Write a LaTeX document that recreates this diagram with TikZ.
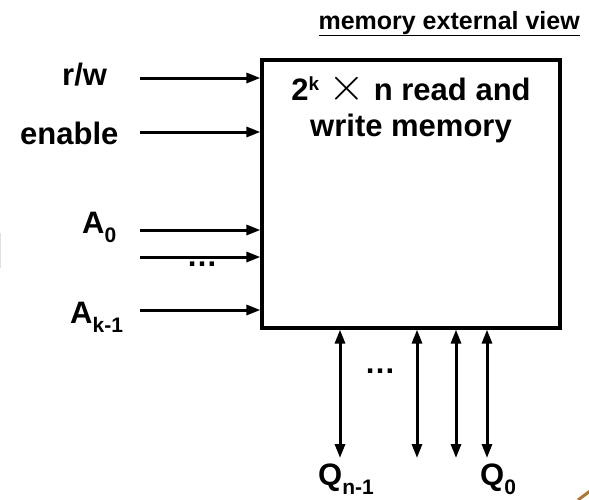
\documentclass[tikz,border=0pt]{standalone}
\usepackage{graphicx}
\usepackage{fontspec}
\setmainfont{Liberation Sans}
\usetikzlibrary{arrows.meta}
\newcommand{\lbl}{\fontsize{31}{36}\selectfont\bfseries}
\newcommand{\subs}[1]{\raisebox{-0.3em}{\fontsize{21}{21}\selectfont #1}}
\newcommand{\sups}[1]{\raisebox{0.3em}{\fontsize{19}{19}\selectfont #1}}
\begin{document}
\begin{tikzpicture}[x=1pt,y=-1pt,
  lab/.style={inner sep=0pt,font=\lbl,anchor=base west},
  wire/.style={line width=3pt,-{Triangle[length=14pt,width=10pt]}},
  bus/.style={line width=3pt,{Triangle[length=14pt,width=10pt]}-{Triangle[length=14pt,width=10pt]}},
  dots/.style={inner sep=0pt,font=\lbl}]
\useasboundingbox (0,0) rectangle (589,499);
% memory box
\node[draw,line width=3.2pt,minimum width=298pt,minimum height=268pt,inner sep=0pt] (mem) at (411,194) {};
\node[inner sep=0pt,font=\fontsize{31}{36}\selectfont\bfseries,anchor=base] (memtxt1) at (411,100)
  {2\sups{k}\hspace{9pt}\scalebox{1.9}{$\times$}\hspace{9pt}n read and};
\node[inner sep=0pt,font=\fontsize{31}{36}\selectfont\bfseries,anchor=base] (memtxt2) at (411,136)
  {write memory};
% title
\node[inner sep=0pt,font=\fontsize{25}{30}\selectfont\bfseries,anchor=base east] (title) at (580,29) {\underline{memory external view}};
% input labels
\node[lab] (rw) at (62,85) {r/w};
\node[lab] (en) at (20,144) {enable};
\node[lab] (a0) at (82,233) {A\subs{0}};
\node[lab] (ak) at (70,323) {A\subs{k-1}};
% input wire starts
\coordinate (s1) at (140,78);
\coordinate (s2) at (140,132);
\coordinate (s3) at (140,230);
\coordinate (s4) at (140,257);
\coordinate (s5) at (140,310);
\foreach \s in {s1,s2,s3,s4,s5}
  \draw[wire] (\s) -- (mem.west |- \s);
\node[dots] (d1) at (202,264) {…};
% bidirectional buses
\coordinate (q1) at (340,458);
\coordinate (q2) at (417,458);
\coordinate (q3) at (456,458);
\coordinate (q4) at (487,458);
\foreach \q in {q1,q2,q3,q4}
  \draw[bus] (mem.south -| \q) -- (\q);
\node[dots] (d2) at (380,371) {…};
% output labels
\node[lab] (qn) at (318,485) {Q\subs{n-1}};
\node[lab] (q0) at (480,485) {Q\subs{0}};
% edge artifacts
\draw[line width=1pt,gray!25] (0.5,233) -- (0.5,268);
\draw[line width=3pt,color={rgb,255:red,176;green,118;blue,52}] (578,500) -- (590,491);
\end{tikzpicture}
\end{document}
